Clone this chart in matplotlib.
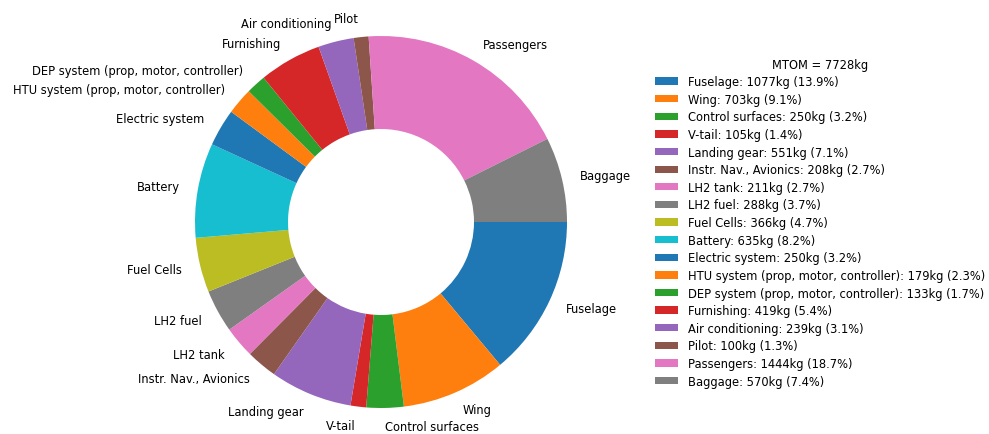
import matplotlib
matplotlib.use("Agg")
import matplotlib.pyplot as plt

components = ["Fuselage", "Wing", "Control surfaces", "V-tail", "Landing gear",
              "Instr. Nav., Avionics", "LH2 tank", "LH2 fuel", "Fuel Cells", "Battery",
              "Electric system", "HTU system (prop, motor, controller)",
              "DEP system (prop, motor, controller)", "Furnishing", "Air conditioning",
              "Pilot", "Passengers", "Baggage"]
masses = [1077, 703, 250, 105, 551, 208, 211, 288, 366, 635, 250, 179, 133, 419, 239, 100, 1444, 570]
mtom = sum(masses)

FS = 8.3
W, H = 989, 435
fig = plt.figure(figsize=(W / 100, H / 100), dpi=100)
ax = fig.add_axes([0, 0, 1, 1])

wedges, texts = ax.pie(masses, labels=components, startangle=0, counterclock=False,
                       wedgeprops=dict(width=0.5), labeldistance=1.1,
                       textprops=dict(fontsize=FS))

# place pie: centre at (381, 223) px from top-left, radius 186 px
cx, cy, r = 381, 223, 186
ax.set_xlim(-cx / r, (W - cx) / r)
ax.set_ylim(-(H - cy) / r, cy / r)
ax.set_aspect("auto")
ax.axis("off")

leg_labels = [f"{n}: {m}kg ({m / mtom * 100:.1f}%)" for n, m in zip(components, masses)]
fig.legend(wedges, leg_labels, title=f"MTOM = {mtom}kg", loc="upper left",
           bbox_to_anchor=(650 / W, 1 - 54 / H), frameon=False, fontsize=FS,
           title_fontsize=FS, borderaxespad=0, handlelength=2.0,
           handleheight=0.6, handletextpad=0.9, labelspacing=0.4)

fig.savefig("out.png", dpi=100)
